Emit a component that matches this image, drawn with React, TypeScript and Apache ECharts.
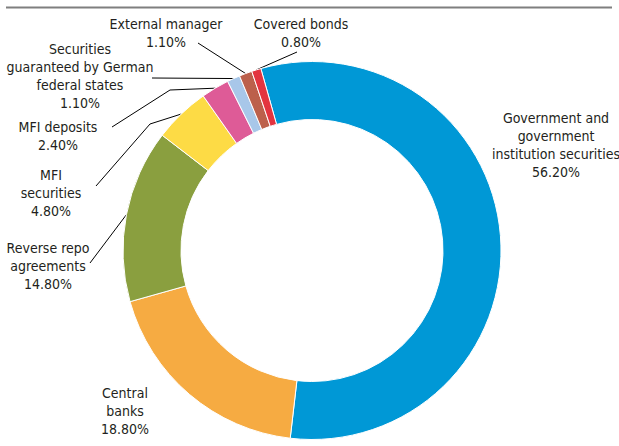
import React, { useEffect, useRef } from "react";
import * as echarts from "echarts";

const categories = [
  "Government and\ngovernment\ninstitution securities",
  "Central\nbanks",
  "Reverse repo\nagreements",
  "MFI\nsecurities",
  "MFI deposits",
  "Securities\nguaranteed by German\nfederal states",
  "External manager",
  "Covered bonds",
];
const shares = [56.2, 18.8, 14.8, 4.8, 2.4, 1.1, 1.1, 0.8];
const sliceColors = [
  "#0098D6",
  "#F6AB42",
  "#8A9F3F",
  "#FDDB45",
  "#DE5B97",
  "#A8C7E9",
  "#BC604B",
  "#E3343F",
];
// label block positions (center x, top y)
const labelSpots = [
  [556, 109],
  [125, 384],
  [48, 239],
  [51, 166],
  [58, 118],
  [80, 40],
  [166, 15],
  [301, 15],
];
// leader line points after the slice anchor (null = no leader)
const leaderBends: (number[][] | null)[] = [
  null,
  null,
  [[90, 263]],
  [[150, 124], [96, 186]],
  [[170, 90], [112, 127]],
  [[152, 78]],
  [[198, 43]],
  [[297, 52]],
];

const CENTER = [312, 250.5];
const OUTER = 189;
const INNER = 131;
const START = 105.7;
const FONT = '"Liberation Sans Narrow", "DejaVu Sans Condensed", "Arial Narrow", sans-serif';

export default function App() {
  const ref = useRef<HTMLDivElement>(null);
  useEffect(() => {
    if (!ref.current) return;
    const chart = echarts.init(ref.current, null, { renderer: "svg" });
    const total = shares.reduce((a, b) => a + b, 0);
    const anchorOf = (i: number) => {
      let cum = 0;
      for (let k = 0; k < i; k++) cum += shares[k];
      const mid = cum + shares[i] / 2;
      const ang = ((START - (mid / total) * 360) * Math.PI) / 180;
      return [CENTER[0] + OUTER * Math.cos(ang), CENTER[1] - OUTER * Math.sin(ang)];
    };
    chart.setOption({
      animation: false,
      backgroundColor: "#ffffff",
      graphic: [
        {
          type: "line",
          shape: { x1: 6, y1: 7.5, x2: 612, y2: 7.5 },
          style: { stroke: "#7f7f7f", lineWidth: 2 },
        },
      ],
      series: [
        {
          type: "pie",
          center: CENTER,
          radius: [INNER, OUTER],
          startAngle: START,
          clockwise: true,
          avoidLabelOverlap: false,
          itemStyle: { borderColor: "#ffffff", borderWidth: 1 },
          label: {
            show: true,
            position: "outside",
            color: "#231F20",
            fontFamily: FONT,
            fontSize: 14,
            lineHeight: 18,
            formatter: (p: any) => `${p.name}\n${Number(p.value).toFixed(2)}%`,
          },
          labelLine: {
            show: true,
            lineStyle: { color: "#000000", width: 1 },
          },
          labelLayout: (params: any) => {
            const i = params.dataIndex;
            const spot = labelSpots[i];
            const out: any = {
              x: spot[0],
              y: spot[1],
              align: "center",
              verticalAlign: "top",
            };
            const bends = leaderBends[i];
            if (bends) {
              const pts = [anchorOf(i), ...bends];
              if (pts.length === 2) pts.splice(1, 0, pts[1]);
              out.labelLinePoints = pts;
            }
            return out;
          },
          data: categories.map((name, i) => ({
            name,
            value: shares[i],
            itemStyle: { color: sliceColors[i] },
            labelLine: { show: !!leaderBends[i] },
          })),
        },
      ],
    });
    return () => chart.dispose();
  }, []);
  return (
    <div
      ref={ref}
      style={{ position: "absolute", left: 0, top: 0, width: 619, height: 446 }}
    />
  );
}
